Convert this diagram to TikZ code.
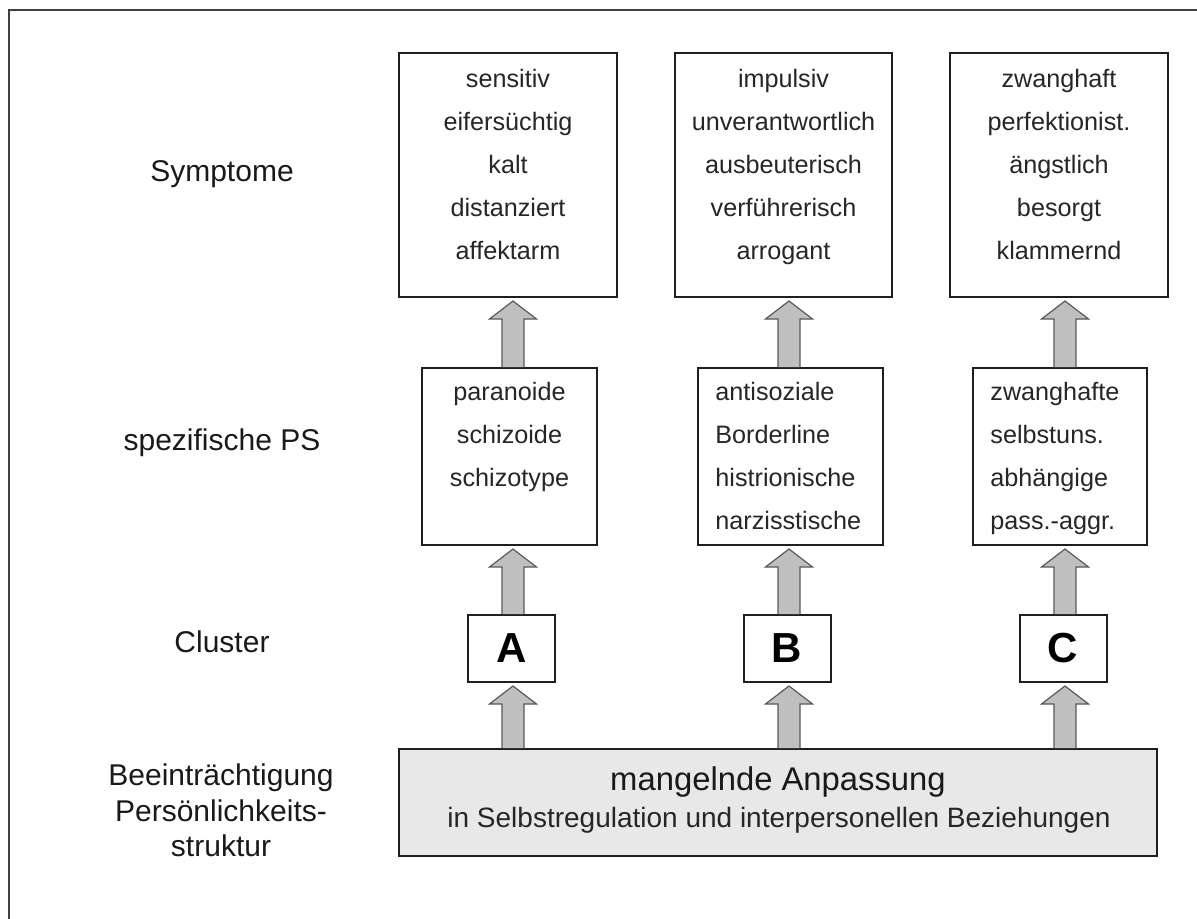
\documentclass[tikz,border=0pt]{standalone}
\usepackage{fontspec}
\setmainfont{Liberation Sans}
\usetikzlibrary{calc,fit}
\newcommand\fatarrow[3]{% #1 column coordinate, #2 upper node, #3 lower node
  \filldraw[fatarr] let \p1=(#1), \p2=(#2.south), \p3=(#3.north) in
   (\x1-5.5pt,\y3) -- (\x1-5.5pt,\y2-10.5pt) -- (\x1-11.75pt,\y2-10.5pt)
   -- (\x1,\y2-1.5pt) -- (\x1+11.75pt,\y2-10.5pt) -- (\x1+5.5pt,\y2-10.5pt)
   -- (\x1+5.5pt,\y3);}
\begin{document}
\begin{tikzpicture}[x=0.5pt,y=-0.5pt,
  box/.style={draw=black!88, line width=1pt, fill=white, inner sep=0pt},
  txt/.style={font=\fontsize{12.6pt}{15pt}\selectfont, text=black!85, inner sep=0pt, anchor=base},
  txtl/.style={txt, anchor=base west},
  lbl/.style={font=\fontsize{15pt}{18pt}\selectfont, text=black!90, inner sep=0pt, anchor=base},
  clbox/.style={box, minimum width=43.5pt, minimum height=33.5pt,
    font=\fontsize{21pt}{24pt}\selectfont\bfseries},
  fatarr/.style={draw=black!65, fill=black!25, line width=0.6pt, line join=miter}]
\useasboundingbox (0,0) rectangle (1197,919);
% outer frame (right and bottom edges lie outside the picture)
\draw[line width=1.25pt, draw=black!75] (9,930) -- (9,10) -- (1210,10);

% column axes of the arrows
\coordinate (c1) at (513,0);
\coordinate (c2) at (789,0);
\coordinate (c3) at (1065,0);

% left labels
\node[lbl] (lsym) at (222,182) {Symptome};
\node[lbl] (lps) at (222,450) {spezifische PS};
\node[lbl] (lcl) at (222,652) {Cluster};
\node[lbl] (lb1) at (221,785) {Beeinträchtigung};
\node[lbl] (lb2) at (221,821) {Persönlichkeits-};
\node[lbl] (lb3) at (221,856) {struktur};

% symptom boxes
\node[box, fit={(399,53) (617,297)}] (s1) {};
\node[box, fit={(675,53) (892,297)}] (s2) {};
\node[box, fit={(950,53) (1168,297)}] (s3) {};
\foreach \t [count=\i] in {sensitiv,eifersüchtig,kalt,distanziert,affektarm}
  \node[txt] (s1t\i) at (508,45+43*\i) {\t};
\foreach \t [count=\i] in {impulsiv,unverantwortlich,ausbeuterisch,verführerisch,arrogant}
  \node[txt] (s2t\i) at (783.5,45+43*\i) {\t};
\foreach \t [count=\i] in {zwanghaft,perfektionist.,ängstlich,besorgt,klammernd}
  \node[txt] (s3t\i) at (1059,45+43*\i) {\t};

% specific PS boxes
\node[box, fit={(422,368) (597,545)}] (p1) {};
\node[box, fit={(698,368) (883,545)}] (p2) {};
\node[box, fit={(973,368) (1147,545)}] (p3) {};
\foreach \t [count=\i] in {paranoide,schizoide,schizotype}
  \node[txt] (p1t\i) at (509.5,357+43*\i) {\t};
\foreach \t [count=\i] in {antisoziale,Borderline,histrionische,narzisstische}
  \node[txtl] (p2t\i) at (715,357+43*\i) {\t};
\foreach \t [count=\i] in {zwanghafte,selbstuns.,abhängige,pass.-aggr.}
  \node[txtl] (p3t\i) at (990,357+43*\i) {\t};

% cluster boxes
\node[clbox] (A) at (511.5,648.5) {A};
\node[clbox] (B) at (787,648.5) {B};
\node[clbox] (C) at (1063,648.5) {C};

% bottom box
\node[box, fill=black!9, fit={(399,749) (1157,856)}] (base) {};
\node[font=\fontsize{16.4pt}{19pt}\selectfont, text=black!90, inner sep=0pt, anchor=base]
  (bt1) at (778,790) {mangelnde Anpassung};
\node[font=\fontsize{14pt}{17pt}\selectfont, text=black!85, inner sep=0pt, anchor=base]
  (bt2) at (779,827) {in Selbstregulation und interpersonellen Beziehungen};

% arrows
\fatarrow{c1}{s1}{p1}
\fatarrow{c2}{s2}{p2}
\fatarrow{c3}{s3}{p3}
\fatarrow{c1}{p1}{A}
\fatarrow{c2}{p2}{B}
\fatarrow{c3}{p3}{C}
\fatarrow{c1}{A}{base}
\fatarrow{c2}{B}{base}
\fatarrow{c3}{C}{base}
\end{tikzpicture}
\end{document}
